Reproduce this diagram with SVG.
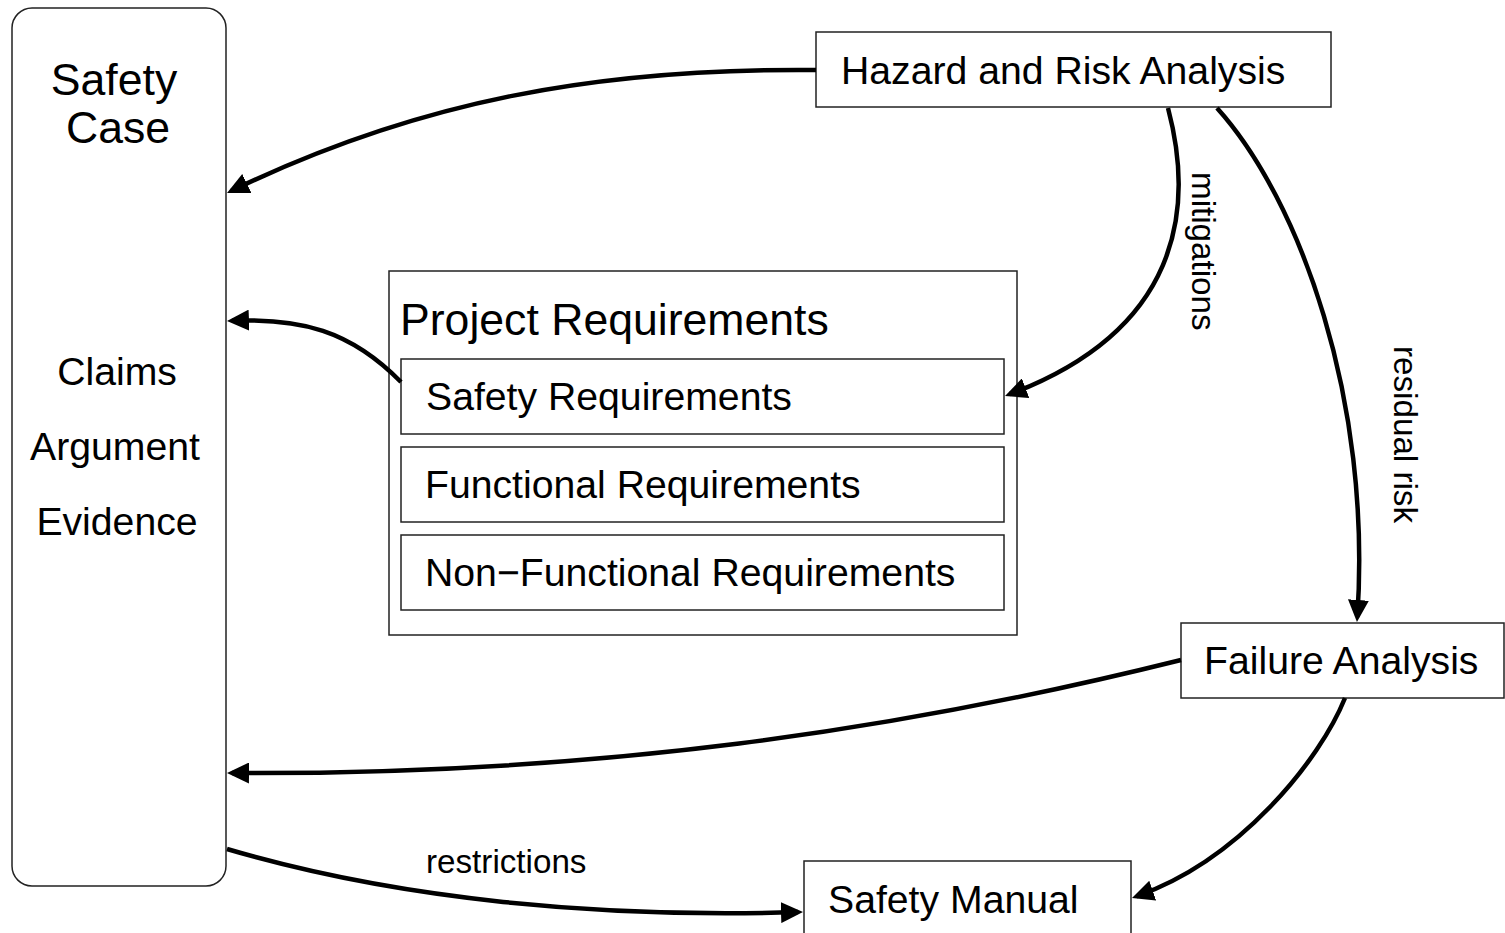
<svg xmlns="http://www.w3.org/2000/svg" width="1505" height="933" viewBox="0 0 1505 933">
<style>
  .box { fill: #ffffff; stroke: #222222; stroke-width: 1.5; }
  .t { font-family: "Liberation Sans", Arial, Helvetica, sans-serif; fill: #000000; font-size: 39.2px; }
  .big { font-size: 44.6px; }
  .lbl { font-family: "Liberation Sans", Arial, Helvetica, sans-serif; fill: #000000; font-size: 33.2px; }
  .mid { text-anchor: middle; }
  .edge { fill: none; stroke: #000000; stroke-width: 4.5; marker-end: url(#arrow); }
</style>
<defs>
  <marker id="arrow" viewBox="0 0 22 21" refX="17" refY="10.5" markerWidth="22" markerHeight="21" markerUnits="userSpaceOnUse" orient="auto">
    <path d="M0,0 L22,10.5 L0,21 z" fill="#000000"/>
  </marker>
</defs>
<rect width="1505" height="933" fill="#ffffff"/>

<g id="safety-case">
  <rect class="box" x="12" y="8" width="214" height="878" rx="20" ry="20"/>
  <text class="t big mid" x="114" y="95">Safety</text>
  <text class="t big mid" x="118" y="143">Case</text>
  <text class="t mid" x="117" y="385">Claims</text>
  <text class="t mid" x="115" y="460">Argument</text>
  <text class="t mid" x="117" y="535">Evidence</text>
</g>

<g id="hazard-risk-analysis">
  <rect class="box" x="816" y="32" width="515" height="75"/>
  <text class="t" x="841" y="84">Hazard and Risk Analysis</text>
</g>

<g id="project-requirements">
  <rect class="box" x="389" y="271" width="628" height="364"/>
  <text class="t big" x="400" y="335">Project Requirements</text>
</g>

<g id="safety-requirements">
  <rect class="box" x="401" y="359" width="603" height="75"/>
  <text class="t" x="426" y="410">Safety Requirements</text>
</g>

<g id="functional-requirements">
  <rect class="box" x="401" y="447" width="603" height="75"/>
  <text class="t" x="425" y="498">Functional Requirements</text>
</g>

<g id="non-functional-requirements">
  <rect class="box" x="401" y="535" width="603" height="75"/>
  <text class="t" x="425" y="586">Non−Functional Requirements</text>
</g>

<g id="failure-analysis">
  <rect class="box" x="1181" y="623" width="323" height="75"/>
  <text class="t" x="1204" y="674">Failure Analysis</text>
</g>

<g id="safety-manual">
  <rect class="box" x="804" y="861" width="327" height="80"/>
  <text class="t" x="828" y="913">Safety Manual</text>
</g>

<g id="connectors">
  <path class="edge" d="M816,70 C600,68 420,100 231.5,190.8"/>
  <path class="edge" d="M1168,108 C1195,210 1180,330 1009.7,394.2"/>
  <path class="edge" d="M1217,108 C1300,200 1372,400 1357.3,617"/>
  <path class="edge" d="M401,382 C350,330 300,318 232,320.8"/>
  <path class="edge" d="M1181,660 C900,730 600,775 232,773"/>
  <path class="edge" d="M1345,698 C1320,760 1240,860 1136.7,896.3"/>
  <path class="edge" d="M227,849 C400,900 600,918 798,912.1"/>
  <text class="lbl" transform="translate(1192,172) rotate(90)">mitigations</text>
  <text class="lbl" transform="translate(1394,346) rotate(90)">residual risk</text>
  <text class="lbl" x="426" y="873">restrictions</text>
</g>
</svg>
